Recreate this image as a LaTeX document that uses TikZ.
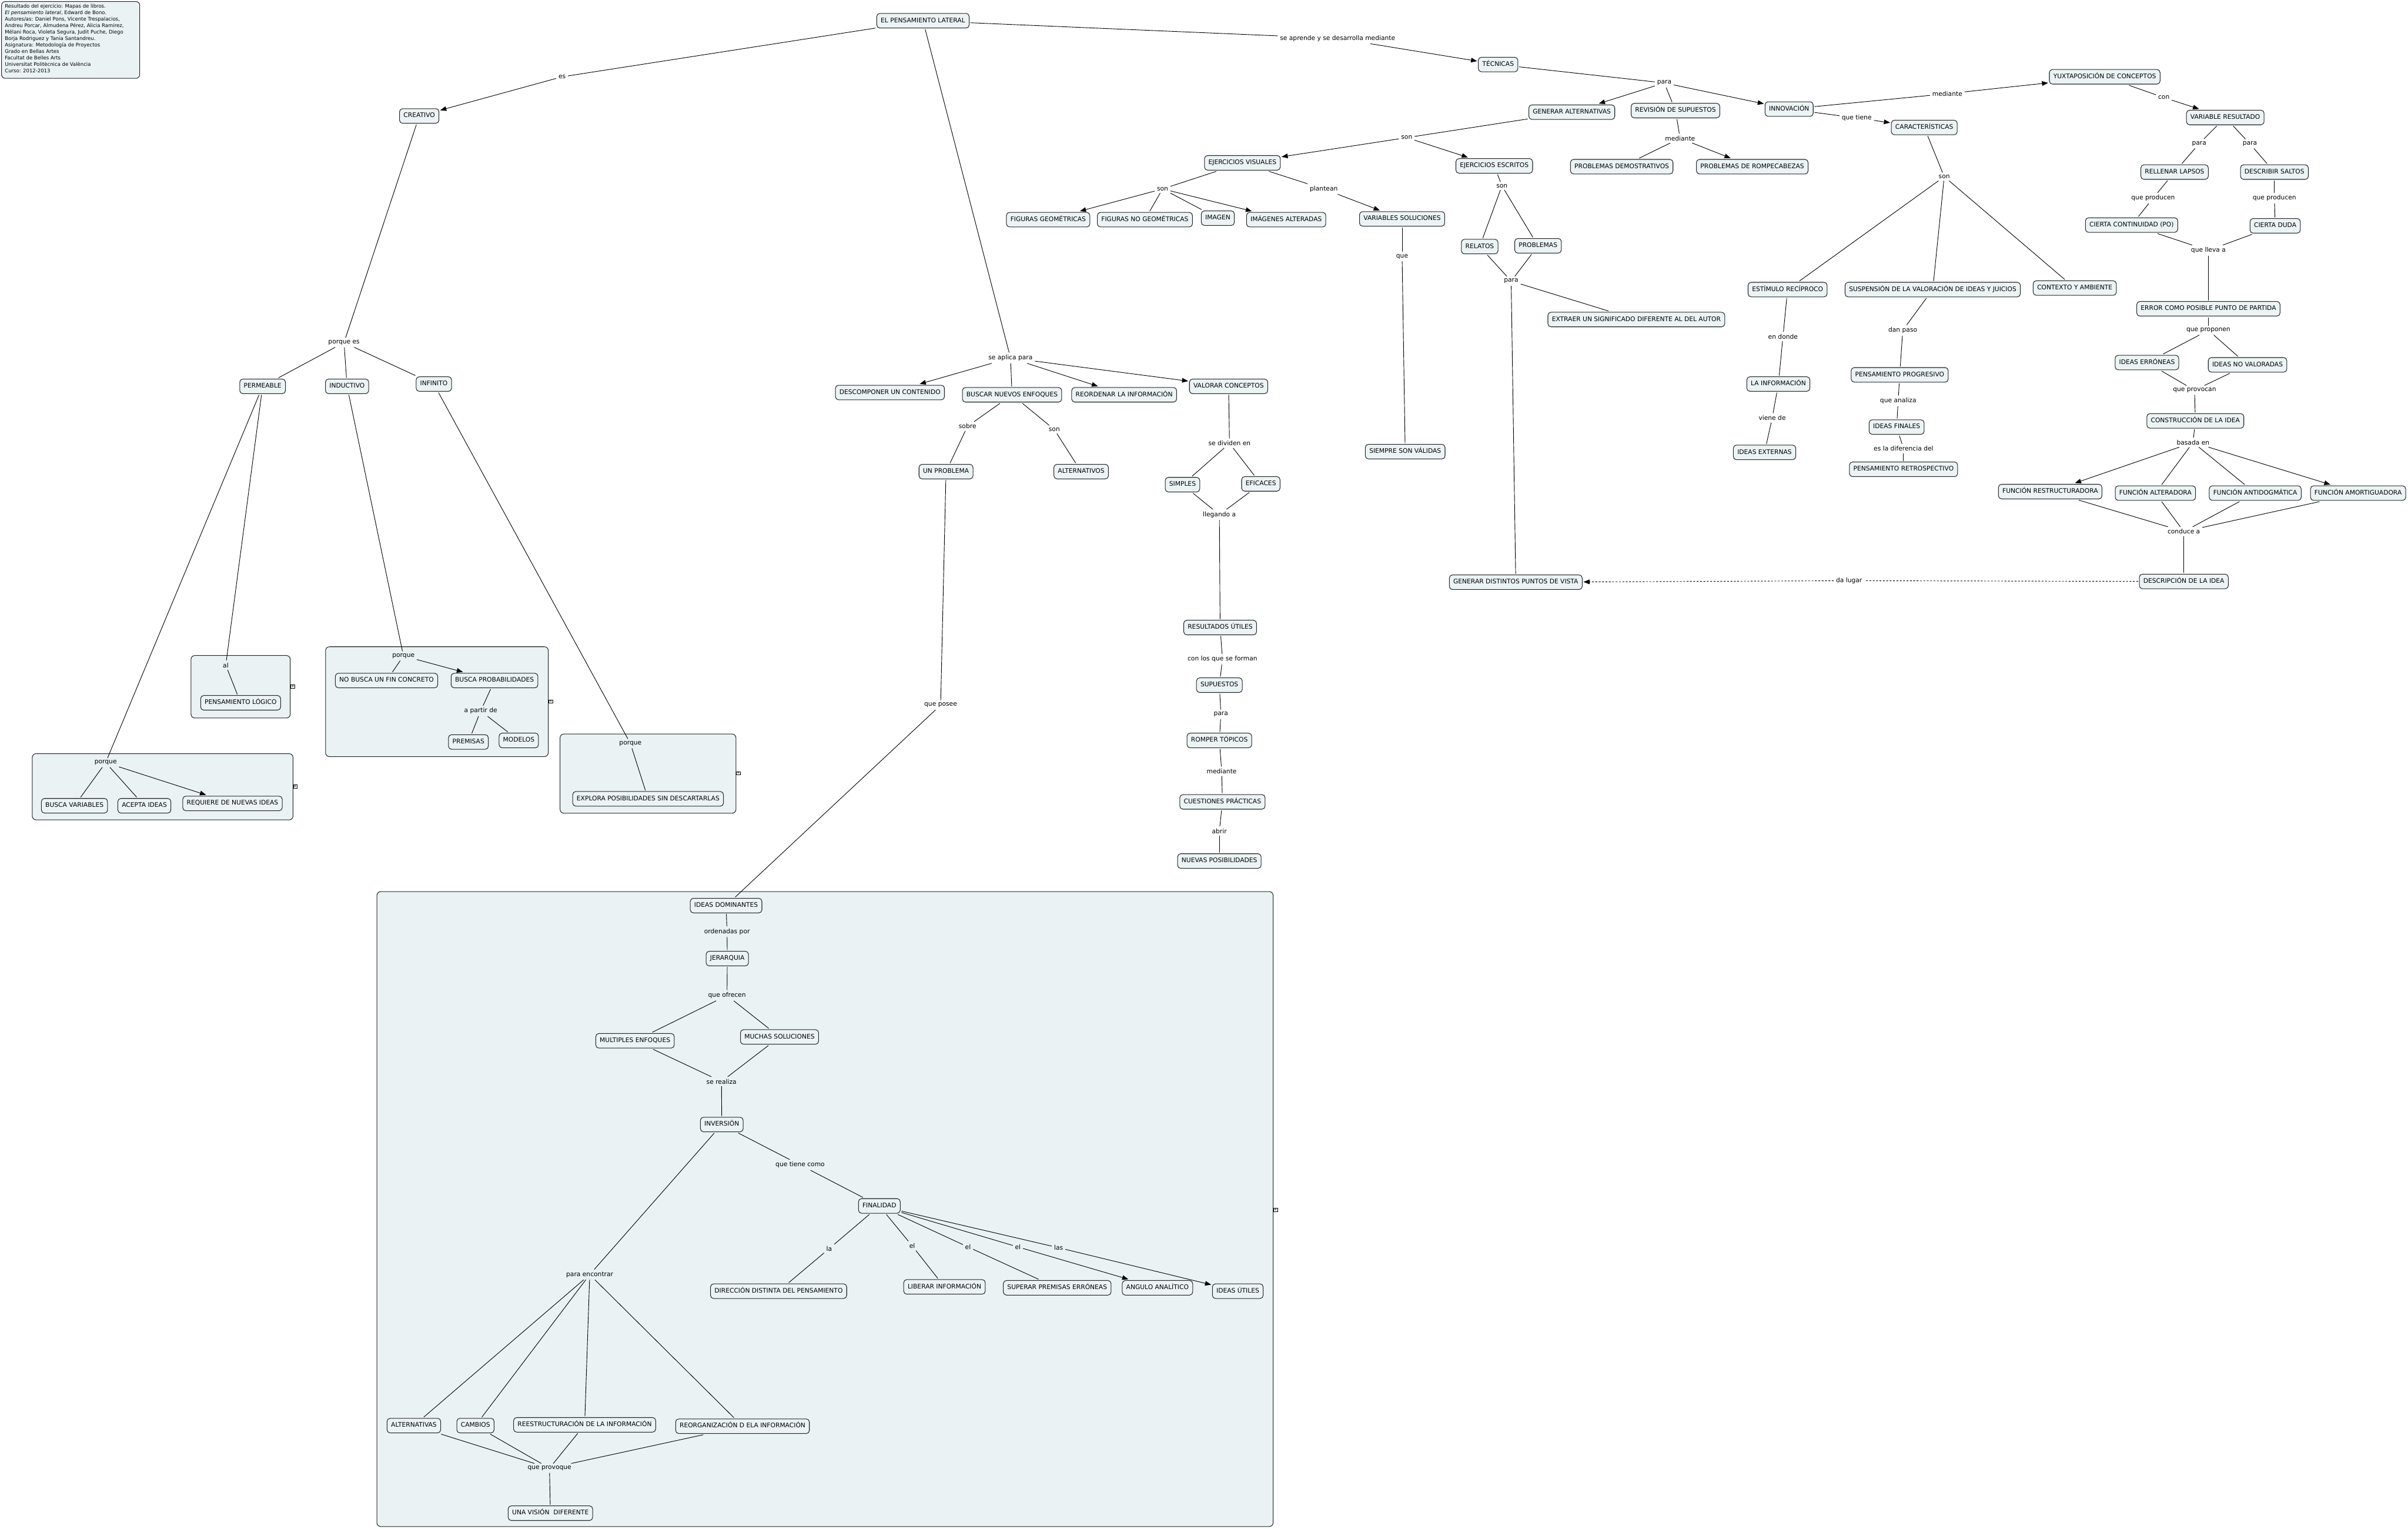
\documentclass[tikz,border=0pt]{standalone}
\usepackage{fontspec}
\setmainfont{DejaVu Sans}
\usetikzlibrary{arrows.meta}
\definecolor{nodefill}{RGB}{236,243,245}
\definecolor{groupfill}{RGB}{234,242,244}
\newcommand\mapfont{\fontsize{4.1}{4.9}\selectfont}
\newcommand\infofont{\fontsize{3.25}{4.23}\selectfont}
\tikzset{
 c/.style={draw=black!85, fill=nodefill, rounded corners=2pt, line width=0.4pt, inner xsep=2.6pt, inner ysep=2.8pt, text height=3pt, text depth=0.9pt, font=\mapfont, outer sep=0.8pt},
 l/.style={font=\mapfont, inner sep=1.3pt},
 con/.style={line width=0.35pt, draw=black},
 arr/.style={con, -{Triangle[length=4pt,width=3pt]}},
 grp/.style={draw=black!85, fill=groupfill, rounded corners=2.5pt, line width=0.4pt},
 mk/.style={draw=black, fill=white, line width=0.3pt, inner sep=0.3pt, font=\fontsize{3}{3}\selectfont},
 dsh/.style={line width=0.35pt, draw=black, dash pattern=on 1.2pt off 1pt}
}
\begin{document}
\begin{tikzpicture}[x=1pt,y=-1pt]
\useasboundingbox[fill=white] (0,0) rectangle (1568,995.3);
% info box
\draw[grp] (1,1) rectangle (91,51);
\node[anchor=north west, inner sep=0, align=left, font=\infofont] (info) at (3,2.4) {Resultado del ejercicio: Mapas de libros.\\
\textit{El pensamiento lateral}, Edward de Bono.\\
Autores/as: Daniel Pons, Vicente Trespalacios,\\
Andreu Porcar, Almudena Pérez, Alicia Ramirez,\\
Mélani Roca, Violeta Segura, Judit Puche, Diego\\
Borja Rodriguez y Tania Santandreu.\\
Asignatura: Metodología de Proyectos\\
Grado en Bellas Artes\\
Facultat de Belles Arts\\
Universitat Politècnica de València\\
Curso: 2012-2013};
% group boxes
\draw[grp] (124.4,426.7) rectangle (189,467.4);
\draw[grp] (21,490.6) rectangle (190.8,533.7);
\draw[grp] (212,421) rectangle (357,492.5);
\draw[grp] (364.7,477.8) rectangle (479.2,529.4);
\draw[grp] (245.4,580.4) rectangle (829,993.7);
\node[mk] (m1) at (190.6,447) {«};
\node[mk] (m2) at (192.2,512) {«};
\node[mk] (m3) at (358.6,456.6) {«};
\node[mk] (m4) at (480.8,503.3) {«};
\node[mk] (m5) at (830.6,787.5) {«};
% concepts
\node[c] (t0) at (601,13.5) {EL PENSAMIENTO LATERAL};
\node[c] (creativo) at (273,75.5) {CREATIVO};
\node[c] (tecnicas) at (975.5,42) {TÉCNICAS};
\node[c] (genalt) at (1023.5,73) {GENERAR ALTERNATIVAS};
\node[c] (revsup) at (1091,72) {REVISIÓN DE SUPUESTOS};
\node[c] (innov) at (1165,71) {INNOVACIÓN};
\node[c] (yuxt) at (1370.5,50) {YUXTAPOSICIÓN DE CONCEPTOS};
\node[c] (varres) at (1449,76.5) {VARIABLE RESULTADO};
\node[c] (caract) at (1253,83) {CARACTERÍSTICAS};
\node[c] (rellenar) at (1416,112) {RELLENAR LAPSOS};
\node[c] (describir) at (1481,112) {DESCRIBIR SALTOS};
\node[c] (continuidad) at (1388,146.5) {CIERTA CONTINUIDAD (PO)};
\node[c] (duda) at (1481.5,147) {CIERTA DUDA};
\node[c] (probdem) at (1056,108.5) {PROBLEMAS DEMOSTRATIVOS};
\node[c] (probromp) at (1141,108.5) {PROBLEMAS DE ROMPECABEZAS};
\node[c] (ejesc) at (973,108) {EJERCICIOS ESCRITOS};
\node[c] (relatos) at (963.5,160.5) {RELATOS};
\node[c] (problemas) at (1001.5,160) {PROBLEMAS};
\node[c] (ejvis) at (809,106) {EJERCICIOS VISUALES};
\node[c] (figgeo) at (682.5,143) {FIGURAS GEOMÉTRICAS};
\node[c] (fignogeo) at (745.5,143) {FIGURAS NO GEOMÉTRICAS};
\node[c] (imagen) at (793,142) {IMAGEN};
\node[c] (imgalt) at (837.5,143) {IMÁGENES ALTERADAS};
\node[c] (varsol) at (913,142.5) {VARIABLES SOLUCIONES};
\node[c] (siempre) at (915,294) {SIEMPRE SON VÁLIDAS};
\node[c] (extraer) at (1065.5,208) {EXTRAER UN SIGNIFICADO DIFERENTE AL DEL AUTOR};
\node[c] (gendist) at (987,379) {GENERAR DISTINTOS PUNTOS DE VISTA};
\node[c] (estimulo) at (1164,188.5) {ESTÍMULO RECÍPROCO};
\node[c] (suspension) at (1258.5,188.5) {SUSPENSIÓN DE LA VALORACIÓN DE IDEAS Y JUICIOS};
\node[c] (contexto) at (1351,187.5) {CONTEXTO Y AMBIENTE};
\node[c] (error) at (1438,201) {ERROR COMO POSIBLE PUNTO DE PARTIDA};
\node[c] (ideaserr) at (1398,236) {IDEAS ERRÓNEAS};
\node[c] (ideasnoval) at (1463.5,237.5) {IDEAS NO VALORADAS};
\node[c] (construccion) at (1429.5,274) {CONSTRUCCIÓN DE LA IDEA};
\node[c] (lainfo) at (1158,250) {LA INFORMACIÓN};
\node[c] (ideasext) at (1149,294.5) {IDEAS EXTERNAS};
\node[c] (penprog) at (1237,244) {PENSAMIENTO PROGRESIVO};
\node[c] (ideasfin) at (1235,278) {IDEAS FINALES};
\node[c] (penretro) at (1239.5,305.5) {PENSAMIENTO RETROSPECTIVO};
\node[c] (frest) at (1335,320) {FUNCIÓN RESTRUCTURADORA};
\node[c] (falt) at (1403.5,321) {FUNCIÓN ALTERADORA};
\node[c] (fanti) at (1468.5,321) {FUNCIÓN ANTIDOGMÁTICA};
\node[c] (famor) at (1535.5,321) {FUNCIÓN AMORTIGUADORA};
\node[c] (descripcion) at (1422,378.5) {DESCRIPCIÓN DE LA IDEA};
\node[c] (descomp) at (579.5,255.5) {DESCOMPONER UN CONTENIDO};
\node[c] (buscar) at (659,257) {BUSCAR NUEVOS ENFOQUES};
\node[c] (reordenar) at (732,257) {REORDENAR LA INFORMACIÓN};
\node[c] (valorar) at (800,251.5) {VALORAR CONCEPTOS};
\node[c] (unprob) at (616,307) {UN PROBLEMA};
\node[c] (alternativos) at (704,307) {ALTERNATIVOS};
\node[c] (simples) at (770,315.5) {SIMPLES};
\node[c] (eficaces) at (821,315) {EFICACES};
\node[c] (resutiles) at (794.5,408.5) {RESULTADOS ÚTILES};
\node[c] (supuestos) at (794,446) {SUPUESTOS};
\node[c] (romper) at (794,482) {ROMPER TÓPICOS};
\node[c] (cuestiones) at (796,522) {CUESTIONES PRÁCTICAS};
\node[c] (nuevas) at (794,560.5) {NUEVAS POSIBILIDADES};
\node[c] (permeable) at (171,251.5) {PERMEABLE};
\node[c] (inductivo) at (226,251.5) {INDUCTIVO};
\node[c] (infinito) at (282.5,250) {INFINITO};
\node[c] (penlog) at (156.7,457.5) {PENSAMIENTO LÓGICO};
\node[c] (buscavar) at (48.5,524.5) {BUSCA VARIABLES};
\node[c] (acepta) at (94,524.5) {ACEPTA IDEAS};
\node[c] (requiere) at (151.4,523) {REQUIERE DE NUEVAS IDEAS};
\node[c] (nobusca) at (251.7,443) {NO BUSCA UN FIN CONCRETO};
\node[c] (buscaprob) at (322,443) {BUSCA PROBABILIDADES};
\node[c] (premisas) at (305,483) {PREMISAS};
\node[c] (modelos) at (337.8,482) {MODELOS};
\node[c] (explora) at (422,520) {EXPLORA POSIBILIDADES SIN DESCARTARLAS};
\node[c] (ideasdom) at (472.8,589.5) {IDEAS DOMINANTES};
\node[c] (jerarquia) at (473.6,624) {JERARQUIA};
\node[c] (multiples) at (413.5,677.5) {MULTIPLES ENFOQUES};
\node[c] (muchas) at (507.6,675) {MUCHAS SOLUCIONES};
\node[c] (inversion) at (470,732) {INVERSIÓN};
\node[c] (finalidad) at (572.6,785) {FINALIDAD};
\node[c] (direccion) at (507,840.5) {DIRECCIÓN DISTINTA DEL PENSAMIENTO};
\node[c] (liberar) at (615,837.7) {LIBERAR INFORMACIÓN};
\node[c] (superar) at (688.4,838.3) {SUPERAR PREMISAS ERRÓNEAS};
\node[c] (angulo) at (753.7,838.3) {ANGULO ANALÍTICO};
\node[c] (ideasutiles) at (806,840.5) {IDEAS ÚTILES};
\node[c] (alternativas) at (269.5,928) {ALTERNATIVAS};
\node[c] (cambios) at (309.6,928) {CAMBIOS};
\node[c] (reestruct) at (380.7,927.5) {REESTRUCTURACIÓN DE LA INFORMACIÓN};
\node[c] (reorg) at (483.5,928.4) {REORGANIZACIÓN D ELA INFORMACIÓN};
\node[c] (unavision) at (358.4,985) {UNA VISIÓN~ DIFERENTE};
% linking phrases
\node[l] (les) at (366,50) {es};
\node[l] (laprende) at (871,25) {se aprende y se desarrolla mediante};
\node[l] (lpara1) at (1083.7,54) {para};
\node[l] (lmed1) at (1268,61) {mediante};
\node[l] (lqtiene) at (1209,76.8) {que tiene};
\node[l] (lcon) at (1409,63.5) {con};
\node[l] (lparar1) at (1432,93.5) {para};
\node[l] (lparar2) at (1465,93.6) {para};
\node[l] (lqprod1) at (1402,129) {que producen};
\node[l] (lqprod2) at (1481,129) {que producen};
\node[l] (lllevaa) at (1438,163) {que lleva a};
\node[l] (lmed2) at (1094,90) {mediante};
\node[l] (lsonga) at (916,89.6) {son};
\node[l] (lsonesc) at (978,121) {son};
\node[l] (lsonvis) at (757,123) {son};
\node[l] (lplantean) at (862,123) {plantean};
\node[l] (lque) at (913,167) {que};
\node[l] (lpararel) at (984,183) {para};
\node[l] (lsoncar) at (1266,115) {son};
\node[l] (lendonde) at (1161,219) {en donde};
\node[l] (lvienede) at (1154,272) {viene de};
\node[l] (ldanpaso) at (1239,215) {dan paso};
\node[l] (lqanaliza) at (1236,261) {que analiza};
\node[l] (lesladif) at (1239.5,292) {es la diferencia del};
\node[l] (lqproponen) at (1438,215) {que proponen};
\node[l] (lqprovocan) at (1429,254) {que provocan};
\node[l] (lbasada) at (1428,288) {basada en};
\node[l] (lconduce) at (1422,346) {conduce a};
\node[l] (ldalugar) at (1204,378) {da lugar};
\node[l] (lseaplica) at (658,233) {se aplica para};
\node[l] (lsobre) at (630,277.5) {sobre};
\node[l] (lsonbus) at (686.5,279.6) {son};
\node[l] (lsedividen) at (800.6,288.6) {se dividen en};
\node[l] (lllegando) at (794,335) {llegando a};
\node[l] (lconlos) at (796,429) {con los que se forman};
\node[l] (lparasup) at (795,465) {para};
\node[l] (lmed3) at (795.5,502) {mediante};
\node[l] (labrir) at (794,541) {abrir};
\node[l] (lqposee) at (612.5,459) {que posee};
\node[l] (lporquees) at (224,223) {porque es};
\node[l] (lal) at (147,433) {al};
\node[l] (lporquep) at (68.8,496.4) {porque};
\node[l] (lporquei) at (262.7,427) {porque};
\node[l] (lapartir) at (313,462.8) {a partir de};
\node[l] (lporqueinf) at (410.5,484) {porque};
\node[l] (lordenadas) at (473.4,606.4) {ordenadas por};
\node[l] (lqofrecen) at (473.4,648) {que ofrecen};
\node[l] (lserealiza) at (469.8,704) {se realiza};
\node[l] (lqtienecomo) at (521,758.3) {que tiene como};
\node[l] (lparaenc) at (384,829.7) {para encontrar};
\node[l] (lla) at (539.9,812.8) {la};
\node[l] (lel1) at (594,811) {el};
\node[l] (lel2) at (630.3,811.7) {el};
\node[l] (lel3) at (662.8,811.7) {el};
\node[l] (llas) at (689.3,812.2) {las};
\node[l] (lqprovoque) at (357.8,955.7) {que provoque};
% connectors
\draw[con] (t0) -- (les); \draw[arr] (les) -- (creativo);
\draw[con] (t0) -- (laprende); \draw[arr] (laprende) -- (tecnicas);
\draw[con] (t0) -- (lseaplica);
\draw[con] (creativo) -- (lporquees);
\draw[con] (lporquees) -- (permeable);
\draw[con] (lporquees) -- (inductivo);
\draw[con] (lporquees) -- (infinito);
\draw[con] (permeable) -- (lal); \draw[con] (lal) -- (penlog);
\draw[con] (permeable) -- (lporquep);
\draw[con] (lporquep) -- (buscavar);
\draw[con] (lporquep) -- (acepta);
\draw[arr] (lporquep) -- (requiere);
\draw[con] (inductivo) -- (lporquei);
\draw[con] (lporquei) -- (nobusca);
\draw[arr] (lporquei) -- (buscaprob);
\draw[con] (buscaprob) -- (lapartir);
\draw[con] (lapartir) -- (premisas);
\draw[con] (lapartir) -- (modelos);
\draw[con] (infinito) -- (lporqueinf); \draw[con] (lporqueinf) -- (explora);
\draw[con] (tecnicas) -- (lpara1);
\draw[arr] (lpara1) -- (genalt);
\draw[con] (lpara1) -- (revsup);
\draw[arr] (lpara1) -- (innov);
\draw[con] (innov) -- (lmed1); \draw[arr] (lmed1) -- (yuxt);
\draw[con] (innov) -- (lqtiene); \draw[arr] (lqtiene) -- (caract);
\draw[con] (yuxt) -- (lcon); \draw[arr] (lcon) -- (varres);
\draw[con] (varres) -- (lparar1); \draw[con] (lparar1) -- (rellenar);
\draw[con] (varres) -- (lparar2); \draw[con] (lparar2) -- (describir);
\draw[con] (rellenar) -- (lqprod1); \draw[con] (lqprod1) -- (continuidad);
\draw[con] (describir) -- (lqprod2); \draw[con] (lqprod2) -- (duda);
\draw[con] (continuidad) -- (lllevaa); \draw[con] (duda) -- (lllevaa);
\draw[con] (lllevaa) -- (error);
\draw[con] (error) -- (lqproponen);
\draw[con] (lqproponen) -- (ideaserr); \draw[con] (lqproponen) -- (ideasnoval);
\draw[con] (ideaserr) -- (lqprovocan); \draw[con] (ideasnoval) -- (lqprovocan);
\draw[con] (lqprovocan) -- (construccion);
\draw[con] (construccion) -- (lbasada);
\draw[arr] (lbasada) -- (frest);
\draw[con] (lbasada) -- (falt);
\draw[con] (lbasada) -- (fanti);
\draw[arr] (lbasada) -- (famor);
\draw[con] (frest) -- (lconduce); \draw[con] (falt) -- (lconduce);
\draw[con] (fanti) -- (lconduce); \draw[con] (famor) -- (lconduce);
\draw[con] (lconduce) -- (descripcion);
\draw[dsh] (descripcion) -- (ldalugar);
\draw[dsh, -{Triangle[length=4pt,width=3pt]}] (ldalugar) -- (gendist);
\draw[con] (caract) -- (lsoncar);
\draw[con] (lsoncar) -- (estimulo);
\draw[con] (lsoncar) -- (suspension);
\draw[con] (lsoncar) -- (contexto);
\draw[con] (estimulo) -- (lendonde); \draw[con] (lendonde) -- (lainfo);
\draw[con] (lainfo) -- (lvienede); \draw[con] (lvienede) -- (ideasext);
\draw[con] (suspension) -- (ldanpaso); \draw[con] (ldanpaso) -- (penprog);
\draw[con] (penprog) -- (lqanaliza); \draw[con] (lqanaliza) -- (ideasfin);
\draw[con] (ideasfin) -- (lesladif); \draw[con] (lesladif) -- (penretro);
\draw[con] (revsup) -- (lmed2);
\draw[con] (lmed2) -- (probdem);
\draw[arr] (lmed2) -- (probromp);
\draw[con] (genalt) -- (lsonga);
\draw[arr] (lsonga) -- (ejvis);
\draw[arr] (lsonga) -- (ejesc);
\draw[con] (ejesc) -- (lsonesc);
\draw[con] (lsonesc) -- (relatos); \draw[con] (lsonesc) -- (problemas);
\draw[con] (relatos) -- (lpararel); \draw[con] (problemas) -- (lpararel);
\draw[con] (lpararel) -- (extraer); \draw[con] (lpararel) -- (gendist);
\draw[con] (ejvis) -- (lsonvis);
\draw[arr] (lsonvis) -- (figgeo);
\draw[con] (lsonvis) -- (fignogeo);
\draw[con] (lsonvis) -- (imagen);
\draw[arr] (lsonvis) -- (imgalt);
\draw[con] (ejvis) -- (lplantean); \draw[arr] (lplantean) -- (varsol);
\draw[con] (varsol) -- (lque); \draw[con] (lque) -- (siempre);
\draw[arr] (lseaplica) -- (descomp);
\draw[con] (lseaplica) -- (buscar);
\draw[arr] (lseaplica) -- (reordenar);
\draw[arr] (lseaplica) -- (valorar);
\draw[con] (buscar) -- (lsobre); \draw[con] (lsobre) -- (unprob);
\draw[con] (buscar) -- (lsonbus); \draw[con] (lsonbus) -- (alternativos);
\draw[con] (unprob) -- (lqposee); \draw[con] (lqposee) -- (ideasdom);
\draw[con] (valorar) -- (lsedividen);
\draw[con] (lsedividen) -- (simples); \draw[con] (lsedividen) -- (eficaces);
\draw[con] (simples) -- (lllegando); \draw[con] (eficaces) -- (lllegando);
\draw[con] (lllegando) -- (resutiles);
\draw[con] (resutiles) -- (lconlos); \draw[con] (lconlos) -- (supuestos);
\draw[con] (supuestos) -- (lparasup); \draw[con] (lparasup) -- (romper);
\draw[con] (romper) -- (lmed3); \draw[con] (lmed3) -- (cuestiones);
\draw[con] (cuestiones) -- (labrir); \draw[con] (labrir) -- (nuevas);
\draw[con] (ideasdom) -- (lordenadas); \draw[con] (lordenadas) -- (jerarquia);
\draw[con] (jerarquia) -- (lqofrecen);
\draw[con] (lqofrecen) -- (multiples); \draw[con] (lqofrecen) -- (muchas);
\draw[con] (multiples) -- (lserealiza); \draw[con] (muchas) -- (lserealiza);
\draw[con] (lserealiza) -- (inversion);
\draw[con] (inversion) -- (lqtienecomo); \draw[con] (lqtienecomo) -- (finalidad);
\draw[con] (finalidad) -- (lla); \draw[con] (lla) -- (direccion);
\draw[con] (finalidad) -- (lel1); \draw[con] (lel1) -- (liberar);
\draw[con] (finalidad) -- (lel2); \draw[con] (lel2) -- (superar);
\draw[con] (finalidad) -- (lel3); \draw[arr] (lel3) -- (angulo);
\draw[con] (finalidad) -- (llas); \draw[arr] (llas) -- (ideasutiles);
\draw[con] (inversion) -- (lparaenc);
\draw[con] (lparaenc) -- (alternativas);
\draw[con] (lparaenc) -- (cambios);
\draw[con] (lparaenc) -- (reestruct);
\draw[con] (lparaenc) -- (reorg);
\draw[con] (alternativas) -- (lqprovoque);
\draw[con] (cambios) -- (lqprovoque);
\draw[con] (reestruct) -- (lqprovoque);
\draw[con] (reorg) -- (lqprovoque);
\draw[con] (lqprovoque) -- (unavision);
\end{tikzpicture}
\end{document}
